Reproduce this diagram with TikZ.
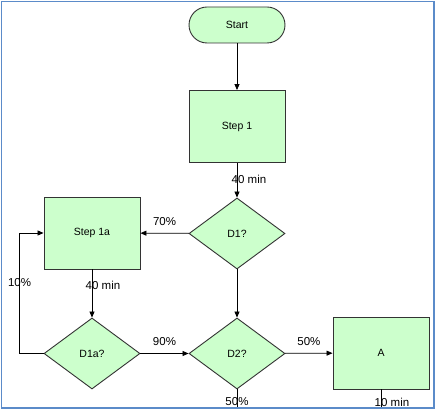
\documentclass[tikz,border=0pt]{standalone}
\usepackage{fontspec}
\setmainfont{Liberation Sans}
\usetikzlibrary{arrows.meta,shapes.geometric}
\definecolor{boxfill}{HTML}{CCFFCC}
\definecolor{boxline}{HTML}{333333}
\definecolor{framecol}{HTML}{5B8BC9}
\tikzset{
    stepbox/.style={rectangle, draw=boxline, fill=boxfill, line width=0.9pt,
        minimum width=96pt, minimum height=72pt, inner sep=0pt, font=\fontsize{10.5}{12}\selectfont},
    startbox/.style={stepbox, minimum height=36pt, rounded corners=18pt},
    decbox/.style={diamond, draw=boxline, fill=boxfill, line width=0.9pt, aspect=1.35,
        minimum width=96pt, minimum height=71pt, inner sep=0pt, font=\fontsize{10.5}{12}\selectfont},
    flow/.style={-{Triangle[length=6pt,width=5pt]}, line width=0.8pt},
    lbl/.style={font=\fontsize{11.5}{13}\selectfont, inner sep=0pt}
}
\begin{document}
\begin{tikzpicture}[x=1pt, y=-1pt]
        \useasboundingbox (0,0) rectangle (437,411);
        \begin{scope}
        \clip (1.5,1.5) rectangle (434,408);
        % boxes
        \node[startbox] (start) at (237,25) {Start};
        \node[stepbox] (s1) at (237,126.5) {Step 1};
        \node[decbox] (d1) at (237,233.5) {D1?};
        \node[stepbox] (s1a) at (92,233) {Step 1a};
        \node[decbox] (d1a) at (92,353.5) {D1a?};
        \node[decbox] (d2) at (237,353.5) {D2?};
        \node[stepbox] (a) at (381,353) {A};
        % connectors
        \draw[flow] (start) -- (s1);
        \draw[flow] (s1) -- node[lbl, xshift=12pt, yshift=1pt] {40 min} (d1);
        \draw[flow] (d1) -- node[lbl, yshift=12pt] {70\%} (s1a);
        \draw[flow] (s1a) -- node[lbl, xshift=11pt, yshift=8pt] {40 min} (d1a);
        \draw[flow] (d1) -- (d2);
        \draw[flow] (d1a) -- node[lbl, yshift=12pt] {90\%} (d2);
        \draw[flow] (d2) -- node[lbl, yshift=12pt] {50\%} (a);
        \draw[flow] (d1a.west) -- ++(-24,0) |- node[lbl, pos=0.296] {10\%} (s1a.west);
        % lines leaving the page
        \draw[line width=0.8pt] (d2.south) -- node[lbl, pos=0.4] {50\%} ++(0,30);
        \draw[line width=0.8pt] (a.south) -- node[lbl, pos=0.43, xshift=11pt] {10 min} ++(0,30);
        \end{scope}
        % frame
        \draw[framecol, line width=1.5pt] (1.5,1.5) rectangle (434,408);
    \end{tikzpicture}
\end{document}
